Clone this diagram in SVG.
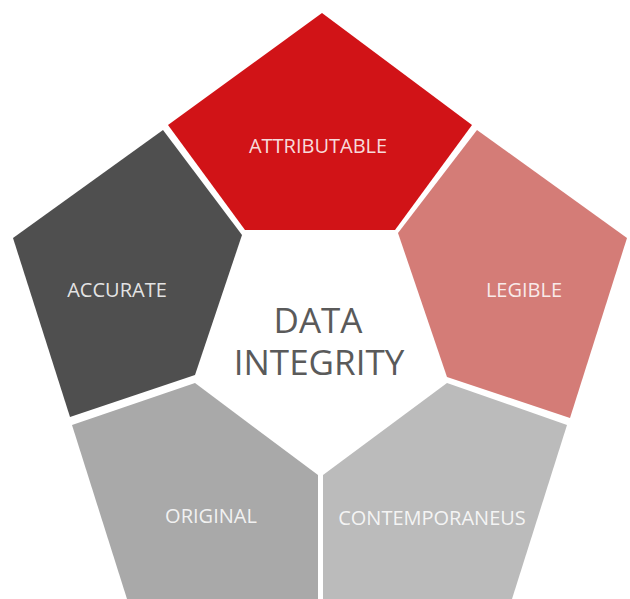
<svg xmlns="http://www.w3.org/2000/svg" width="630" height="599" viewBox="0 0 630 599">
<style>
.lbl{font-family:"Open Sans","Liberation Sans",sans-serif;font-size:20px;fill:#ffffff;fill-opacity:0.86;text-anchor:middle}
.ctr{font-family:"Open Sans","Liberation Sans",sans-serif;font-size:35px;fill:#5a5a5a;text-anchor:middle}
</style>
<rect width="630" height="599" fill="#ffffff"/>
<g id="attributable">
<polygon points="322,13 472,125 395,230 245,230 168,125" fill="#d11317"/>
<text class="lbl" x="318" y="153">ATTRIBUTABLE</text>
</g>
<g id="accurate">
<polygon points="163,130 242,235 195,375 70,417 13,238" fill="#4f4f4f"/>
<text class="lbl" x="117" y="297">ACCURATE</text>
</g>
<g id="legible">
<polygon points="477,130 627,238 570,418 447,377 398,233" fill="#d47c77"/>
<text class="lbl" x="524" y="297">LEGIBLE</text>
</g>
<g id="original">
<polygon points="195,383 318,475 318,599 127,599 72,425" fill="#a9a9a9"/>
<text class="lbl" x="211" y="523">ORIGINAL</text>
</g>
<g id="contemporaneus">
<polygon points="447,383 567,425 512,599 323,599 323,475" fill="#bbbbbb"/>
<text class="lbl" x="432" y="525">CONTEMPORANEUS</text>
</g>
<g id="center">
<text class="ctr" x="318" y="333">DATA</text>
<text class="ctr" x="319" y="375">INTEGRITY</text>
</g>
<g id="connectors"/>
</svg>
